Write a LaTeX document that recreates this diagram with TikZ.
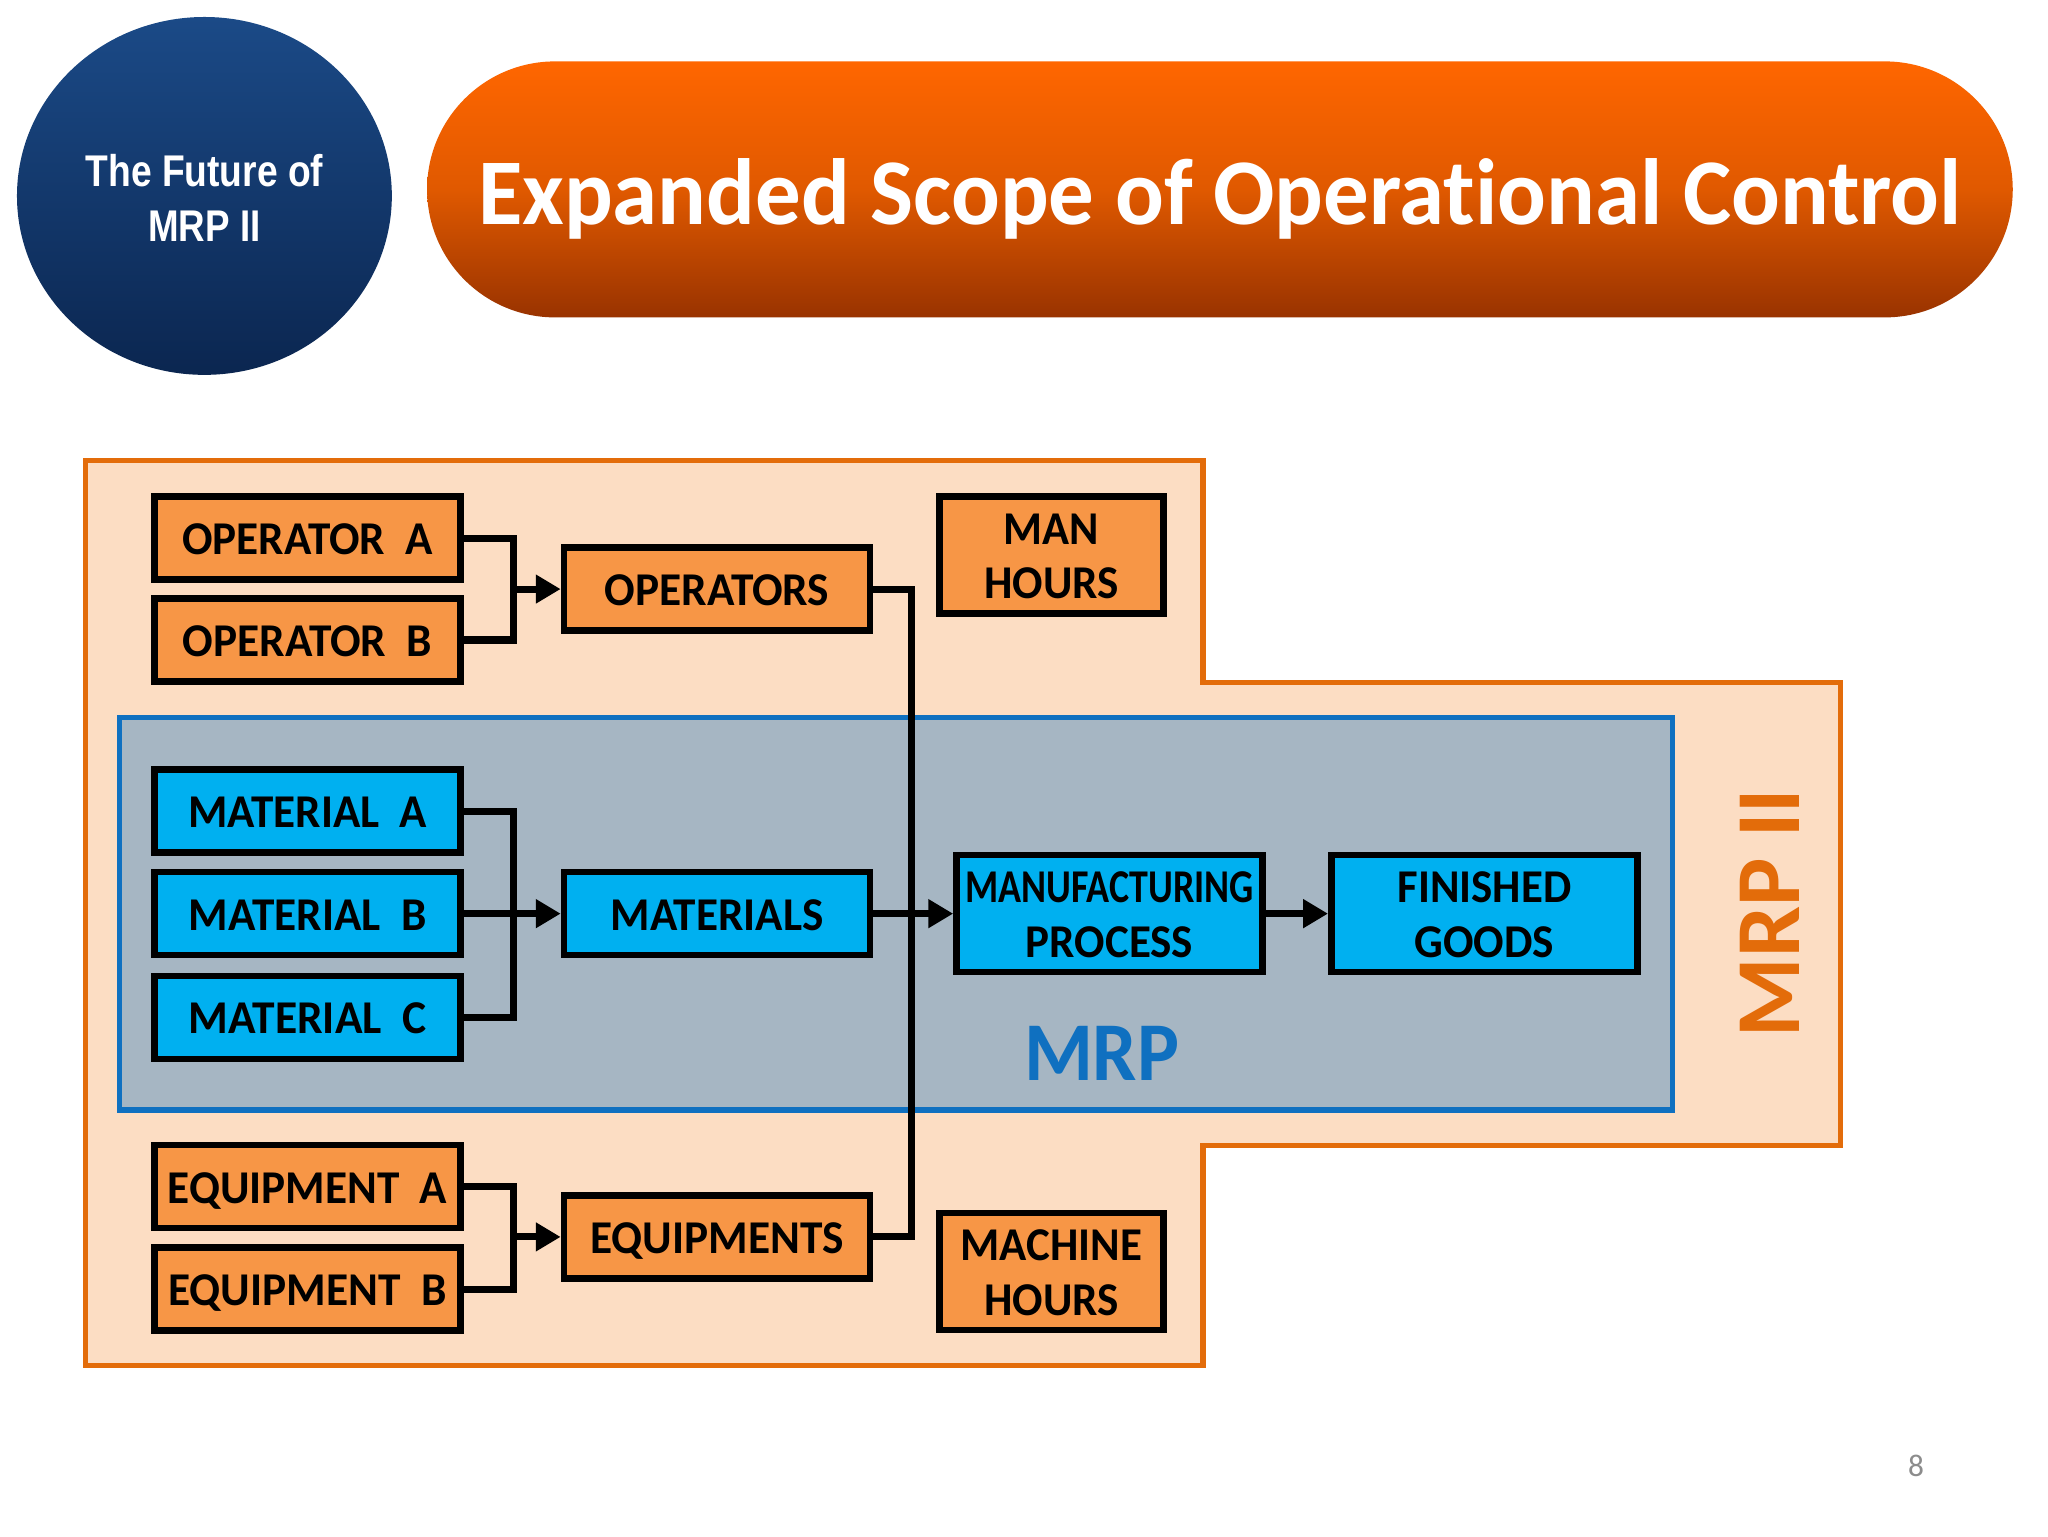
\documentclass[tikz,border=0pt]{standalone}
\usepackage{fontspec}
\usepackage{graphicx}
\usetikzlibrary{arrows.meta,shapes.geometric}
\setmainfont{Carlito}[Ligatures=CommonOff]
\newfontfamily\arialf{Liberation Sans}
\newlength{\tmpw}
\newcommand{\fw}[2]{\settowidth{\tmpw}{#2}\pgfmathsetmacro{\tmps}{#1*1.00375/\the\tmpw}\smash{\scalebox{\tmps}[1]{#2}}\rule{0pt}{\dimexpr0.644em+2bp\relax}}
\definecolor{outerfill}{HTML}{FCDDC3}
\definecolor{outerline}{HTML}{E36C0A}
\definecolor{innerfill}{HTML}{A6B6C3}
\definecolor{innerline}{HTML}{0F70C0}
\definecolor{boxorange}{HTML}{F79646}
\definecolor{boxblue}{HTML}{00B0F0}
\definecolor{circtop}{HTML}{1B4A87}
\definecolor{circbot}{HTML}{0B2650}
\definecolor{piltop}{HTML}{FF6600}
\definecolor{pilmid}{HTML}{E05900}
\definecolor{pilbot}{HTML}{993300}
\tikzset{
  basebox/.style={draw=black,line width=5bp,inner sep=0pt,align=center,text=black,
    font=\fontsize{36bp}{41.5bp}\selectfont\bfseries},
  smallbox/.style={basebox,minimum width=234.5bp,minimum height=63.5bp},
  widebox/.style={basebox,minimum width=234.5bp,minimum height=89.5bp},
  tallbox/.style={basebox,minimum width=171.5bp,minimum height=89.5bp},
  orangebox/.style={fill=boxorange},
  bluebox/.style={fill=boxblue},
  conn/.style={draw=black,line width=5.4bp,line join=miter},
  arr/.style={conn,-{Triangle[length=19bp,width=21bp]}}
}
\begin{document}
\begin{tikzpicture}[x=1bp,y=-1bp]
\useasboundingbox (0,0) rectangle (1568,1176);
\fill[white] (0,0) rectangle (1568,1176);
% header
\node[ellipse,inner sep=0pt,minimum width=287bp,minimum height=274bp,top color=circtop,bottom color=circbot,text=white,align=center,
  font=\arialf\fontsize{34bp}{42bp}\selectfont\bfseries] (future) at (156.5,150) {\fw{182}{The Future of}\rule{0pt}{\dimexpr0.644em+6bp\relax}\\ \fw{86}{MRP II}};
\node[rectangle,rounded corners=98bp,inner sep=0pt,minimum width=1214bp,minimum height=196bp,top color=piltop,bottom color=pilbot,middle color=pilmid,text=white,
  font=\fontsize{72bp}{74bp}\selectfont\bfseries] (title) at (934,145) {\fw{1136}{Expanded Scope of Operational Control}\rule{0pt}{\dimexpr0.644em+8bp\relax}};
% regions
\path[draw=outerline,fill=outerfill,line width=4bp,line join=miter]
  (65.5,352.5) -- (921,352.5) -- (921,522.5) -- (1409,522.5) -- (1409,877) -- (921,877) -- (921,1045.5) -- (65.5,1045.5) -- cycle;
\node[rectangle,draw=innerline,fill=innerfill,line width=4bp,inner sep=0pt,minimum width=1189bp,minimum height=300.5bp] (mrpzone) at (686,699.5) {};
% boxes
\node[smallbox,orangebox] (opa) at (235.5,412) {\fw{192}{OPERATOR\ \ A}};
\node[smallbox,orangebox] (opb) at (235.5,490) {\fw{191}{OPERATOR\ \ B}};
\node[smallbox,orangebox] (ops) at (549,451) {\fw{172}{OPERATORS}};
\node[tallbox,orangebox] (man) at (805,425) {\fw{73}{MAN}\\ \fw{103}{HOURS}};
\node[smallbox,bluebox] (mata) at (235.5,621) {\fw{183}{MATERIAL\ \ A}};
\node[smallbox,bluebox] (matb) at (235.5,699.5) {\fw{182}{MATERIAL\ \ B}};
\node[smallbox,bluebox] (matc) at (235.5,779) {\fw{182}{MATERIAL\ \ C}};
\node[smallbox,bluebox] (mats) at (549,699.5) {\fw{163}{MATERIALS}};
\node[widebox,bluebox] (manuf) at (849.5,699.5) {\fw{221}{MANUFACTURING}\\ \fw{128}{PROCESS}};
\node[widebox,bluebox] (fin) at (1136.5,699.5) {\fw{133}{FINISHED}\\ \fw{107}{GOODS}};
\node[smallbox,orangebox] (eqa) at (235.5,908.5) {\fw{214}{EQUIPMENT\ \ A}};
\node[smallbox,orangebox] (eqb) at (235.5,987) {\fw{213}{EQUIPMENT\ \ B}};
\node[smallbox,orangebox] (eqs) at (549,947) {\fw{194}{EQUIPMENTS}};
\node[tallbox,orangebox] (mach) at (805,973.5) {\fw{139}{MACHINE}\\ \fw{103}{HOURS}};
% junctions
\coordinate (jop) at (393,451);
\coordinate (jmat) at (393,699.5);
\coordinate (jeq) at (393,947);
\coordinate (jres) at (698,699.5);
% connectors
\draw[conn] (opa.east) -| (jop) |- (opb.east);
\draw[arr] (jop) -- (ops.west);
\draw[conn] (mata.east) -| (jmat) |- (matc.east);
\draw[arr] (matb.east) -- (mats.west);
\draw[conn] (eqa.east) -| (jeq) |- (eqb.east);
\draw[arr] (jeq) -- (eqs.west);
\draw[conn] (ops.east) -| (jres) |- (eqs.east);
\draw[arr] (mats.east) -- (manuf.west);
\draw[arr] (manuf.east) -- (fin.west);
% labels
\node[text=innerline,inner sep=0pt,font=\fontsize{64bp}{64bp}\selectfont\bfseries] (mrplabel) at (843.5,806) {\fw{119}{MRP}};
\node[text=outerline,inner sep=0pt,rotate=90,font=\fontsize{70bp}{70bp}\selectfont\bfseries] (mrp2label) at (1354,699) {\fw{190}{MRP II}};
\node[text=black!45,inner sep=0pt,font=\fontsize{24bp}{24bp}\selectfont] (pageno) at (1467,1122) {8};
\end{tikzpicture}
\end{document}
